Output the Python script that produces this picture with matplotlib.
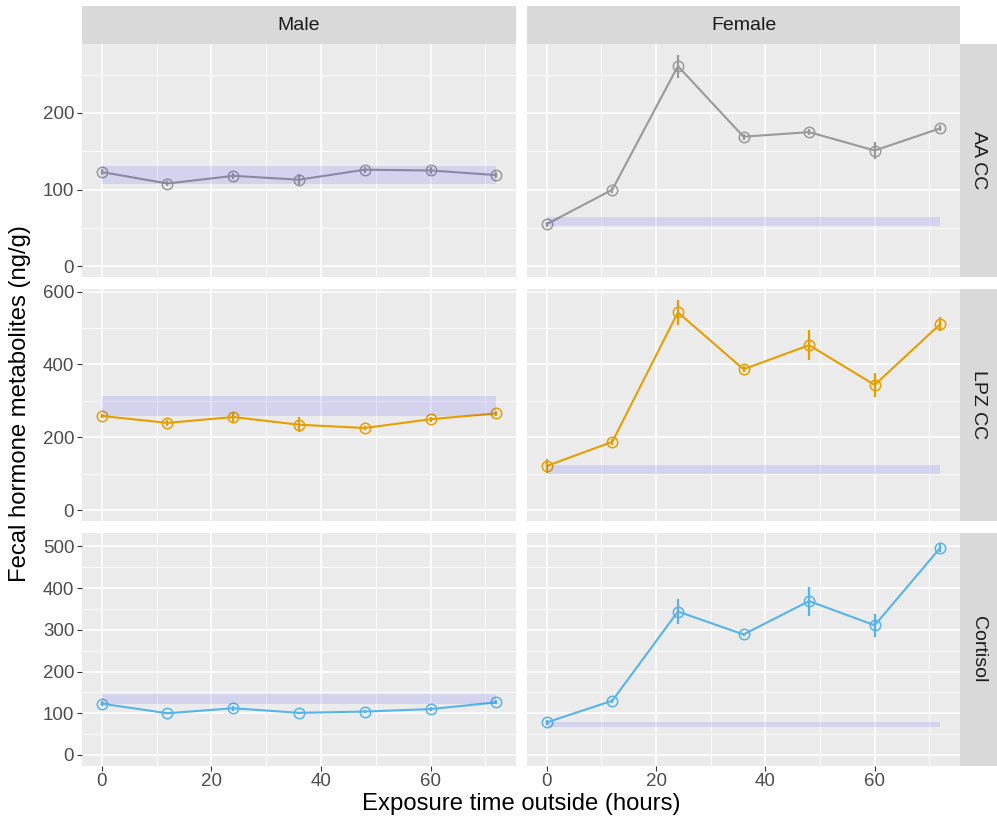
import matplotlib.pyplot as plt
import numpy as np

plt.rcParams['font.family'] = ['Liberation Sans', 'DejaVu Sans']

hours = [0, 12, 24, 36, 48, 60, 72]
sexes = ['Male', 'Female']
hormones = ['AA CC', 'LPZ CC', 'Cortisol']
colors = ['#999999', '#E69F00', '#56B4E9']

# mean values per hormone, per sex
aa_male = [123, 108, 118, 113, 126, 125, 119]
aa_female = [55, 100, 261, 169, 175, 151, 180]
lpz_male = [259, 240, 256, 235, 226, 250, 266]
lpz_female = [122, 188, 543, 387, 453, 344, 511]
cort_male = [123, 100, 112, 101, 104, 110, 126]
cort_female = [78, 130, 344, 289, 369, 311, 497]

# error (half-length of the vertical bars)
aa_male_err = [4, 3, 4, 8, 4, 4, 4]
aa_female_err = [3, 4, 15, 4, 4, 11, 4]
lpz_male_err = [6, 8, 14, 20, 6, 7, 7]
lpz_female_err = [20, 8, 35, 8, 42, 34, 19]
cort_male_err = [6, 3, 6, 3, 3, 5, 5]
cort_female_err = [6, 5, 29, 4, 35, 28, 10]

# baseline band (low, high) per hormone, per sex
aa_band = [(107, 131), (53, 65)]
lpz_band = [(258, 313), (101, 124)]
cort_band = [(121, 147), (67, 80)]

means = [[aa_male, aa_female], [lpz_male, lpz_female], [cort_male, cort_female]]
errs = [[aa_male_err, aa_female_err], [lpz_male_err, lpz_female_err],
        [cort_male_err, cort_female_err]]
bands = [aa_band, lpz_band, cort_band]
yticks = [[0, 100, 200], [0, 200, 400, 600], [0, 100, 200, 300, 400, 500]]
yminor = [[50, 150, 250], [100, 300, 500], [50, 150, 250, 350, 450]]

W, H = 997, 827
fig = plt.figure(figsize=(W / 100, H / 100), dpi=100)

cols = [(82, 516), (527, 960)]
rows = [(44, 277), (289, 521), (533, 765.5)]


def px_axes(x0, x1, y0, y1):
    return fig.add_axes([x0 / W, 1 - y1 / H, (x1 - x0) / W, (y1 - y0) / H])


for r, hname in enumerate(hormones):
    top = max(max(np.array(m) + np.array(e)) for m, e in zip(means[r], errs[r]))
    lo, hi = 0, top
    pad = 0.05 * (hi - lo)
    for c, sname in enumerate(sexes):
        ax = px_axes(cols[c][0], cols[c][1], rows[r][0], rows[r][1])
        ax.set_facecolor('#EBEBEB')
        for s in ax.spines.values():
            s.set_visible(False)
        ax.set_xlim(-3.6, 75.6)
        ax.set_ylim(lo - pad, hi + pad)
        ax.set_xticks([0, 20, 40, 60])
        ax.set_xticks([10, 30, 50, 70], minor=True)
        ax.set_yticks(yticks[r])
        ax.set_yticks(yminor[r], minor=True)
        ax.grid(which='major', color='white', linewidth=1.1)
        ax.grid(which='minor', color='white', linewidth=0.55)
        ax.set_axisbelow(True)
        ax.tick_params(which='major', length=3.6, width=0.8, color='#333333',
                       labelsize=13.5, labelcolor='#4D4D4D', pad=2)
        ax.tick_params(which='minor', length=0)
        if c == 1:
            ax.tick_params(axis='y', labelleft=False, length=0)
        if r < 2:
            ax.tick_params(axis='x', labelbottom=False, length=0)

        y = means[r][c]
        e = errs[r][c]
        col = colors[r]
        ax.vlines(hours, np.array(y) - np.array(e), np.array(y) + np.array(e),
                  color=col, linewidth=1.6, zorder=3)
        ax.plot(hours, y, color=col, linewidth=1.5, zorder=4)
        ax.plot(hours, y, linestyle='none', marker='o', markersize=7.5,
                markerfacecolor='none', markeredgecolor=col,
                markeredgewidth=1.1, zorder=5)
        # baseline band drawn on top, as in the original
        b = bands[r][c]
        ax.fill_between([hours[0], hours[-1]], [b[0]] * 2, [b[1]] * 2,
                        color='blue', alpha=0.1, linewidth=0, zorder=6)

        if r == 0:
            st = px_axes(cols[c][0], cols[c][1], 6, 44)
            st.set_facecolor('#D9D9D9')
            st.set_xticks([])
            st.set_yticks([])
            for s in st.spines.values():
                s.set_visible(False)
            st.text(0.5, 0.5, sname, ha='center', va='center', fontsize=14,
                    color='#1A1A1A', transform=st.transAxes)
        if c == 1:
            st = px_axes(960, 997, rows[r][0], rows[r][1])
            st.set_facecolor('#D9D9D9')
            st.set_xticks([])
            st.set_yticks([])
            for s in st.spines.values():
                s.set_visible(False)
            st.text(0.5, 0.5, hname, ha='center', va='center', fontsize=14,
                    color='#1A1A1A', rotation=-90, transform=st.transAxes)

fig.text(521 / W, 1 - 804 / H, 'Exposure time outside (hours)', ha='center',
         va='center', fontsize=17.2, color='black')
fig.text(20 / W, 1 - 404 / H, 'Fecal hormone metabolites (ng/g)', ha='center',
         va='center', fontsize=17.2, color='black', rotation=90)

fig.savefig('out.png', dpi=100)
